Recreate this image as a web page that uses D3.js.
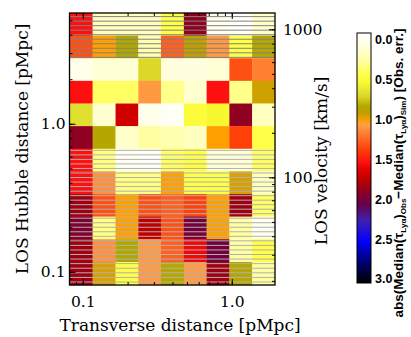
<!DOCTYPE html>
<html>
<head>
<meta charset="utf-8">
<script src="https://cdn.jsdelivr.net/npm/d3@7"></script>
<style>
  html, body { margin: 0; padding: 0; background: #fff; }
  svg { display: block; }
</style>
</head>
<body>
<svg id="chart" width="411" height="337"></svg>
<script>
// ---------------- DATA ----------------
// Shared log-spaced bin edges (pMpc) used for both transverse and LOS-Hubble distance
const binEdges = [0.0815, 0.1165, 0.166, 0.236, 0.335, 0.477, 0.678, 0.964, 1.37, 1.95, 2.77, 3.94, 5.6];
const nCols = 9;   // transverse bins
const nRows = 12;  // LOS bins
// Cell values: abs(Median obs - Median sim) in units of obs. error. Rows listed top (largest LOS) to bottom.
const row00 = [1.55, 0.25, 0.25, 0.25, 0.50, 1.90, 0.10, 0.02, 0.22];
const row01 = [1.35, 1.05, 0.88, 0.30, 1.30, 0.95, 1.12, 0.50, 0.90];
const row02 = [0.12, 0.18, 0.18, 0.75, 0.15, 0.15, 0.18, 1.35, 1.20];
const row03 = [1.55, 0.45, 0.45, 1.12, 0.38, 0.20, 1.55, 0.38, 0.98];
const row04 = [0.72, 0.20, 1.70, 0.12, 0.06, 0.55, 0.60, 1.90, 0.25];
const row05 = [1.90, 0.90, 0.22, 0.33, 0.30, 0.25, 1.05, 1.40, 0.50];
const row06 = [1.55, 0.40, 0.08, 0.05, 0.45, 0.50, 0.18, 0.18, 0.45];
const row07 = [1.55, 1.15, 0.40, 0.40, 1.05, 0.50, 0.50, 1.00, 0.25];
const row08 = [1.85, 1.35, 1.05, 1.35, 1.30, 1.40, 1.05, 1.85, 0.45];
const row09 = [1.95, 0.40, 1.05, 1.75, 1.35, 2.00, 1.05, 0.33, 0.10];
const row10 = [1.85, 1.15, 0.88, 1.12, 1.30, 1.60, 2.00, 0.33, 0.50];
const row11 = [1.85, 1.00, 0.50, 1.12, 0.90, 1.12, 1.85, 0.90, 0.33];
const valueRows = [row00, row01, row02, row03, row04, row05, row06, row07, row08, row09, row10, row11];
// Rows (top-indexed) overlaid with grey hatching lines
const hatchedRows = [0, 1, 6, 7, 8, 9, 10, 11];

const xMajorTicks = [0.1, 1.0];
const xTickLabels = ["0.1", "1.0"];
const yMajorTicks = [0.1, 1.0];
const yTickLabels = ["0.1", "1.0"];
const vMajorTicks = [100, 1000];
const vTickLabels = ["100", "1000"];
const hubbleH = 230; // km/s per pMpc

const cbarTicks = [0, 0.5, 1.0, 1.5, 2.0, 2.5, 3.0];
const cbarTickLabels = ["0.0", "0.5", "1.0", "1.5", "2.0", "2.5", "3.0"];
// colour table stops
const cmapStops  = [0.0, 0.1, 0.2, 0.3, 0.4, 0.5, 0.6, 0.72, 0.78, 0.88, 0.95, 1.0, 1.05, 1.1, 1.2, 1.3, 1.4, 1.55, 1.65, 1.75, 1.85, 1.95, 2.05, 2.25, 2.5, 2.75, 3.0];
const cmapColors = ["#ffffff", "#fffff0", "#ffffd0", "#ffffb0", "#ffff80", "#ffff48", "#f8f830", "#e0e030", "#d8d020", "#b0a800", "#c0a000", "#d8a000", "#ffa000", "#ffa048", "#ff8030", "#ff6020", "#ff4008", "#ff1010", "#e00000", "#c00000", "#a00010", "#800030", "#680048", "#4020b0", "#0000ff", "#000070", "#000000"];

// ---------------- LAYOUT ----------------
const P = { left: 69.5, right: 275, top: 13, bottom: 285 };
const CB = { left: 357, right: 371, top: 33, bottom: 283 };

const svg = d3.select("#chart");
const serif = "'DejaVu Serif', serif";
const sans = "'Liberation Sans', Arial, sans-serif";

const x = d3.scaleLog().domain([binEdges[0], binEdges[nCols]]).range([P.left, P.right]);
const y = d3.scaleLog().domain([binEdges[0], binEdges[nRows]]).range([P.bottom, P.top]);
const yv = d3.scaleLog().domain([binEdges[0] * hubbleH, binEdges[nRows] * hubbleH]).range([P.bottom, P.top]);
const color = d3.scaleLinear().domain(cmapStops).range(cmapColors).clamp(true);

// cells
const cells = [];
valueRows.forEach((row, r) => {
  const lo = binEdges[nRows - 1 - r], hi = binEdges[nRows - r];
  row.forEach((v, c) => cells.push({ r, c, v, x0: binEdges[c], x1: binEdges[c + 1], y0: lo, y1: hi }));
});
svg.append("g").selectAll("rect").data(cells).join("rect")
  .attr("x", d => x(d.x0))
  .attr("y", d => y(d.y1))
  .attr("width", d => x(d.x1) - x(d.x0) + 0.3)
  .attr("height", d => y(d.y0) - y(d.y1) + 0.3)
  .attr("fill", d => color(d.v));

// hatching lines
const hatch = [];
hatchedRows.forEach(r => {
  const lo = binEdges[nRows - 1 - r], hi = binEdges[nRows - r];
  const yt = y(hi), yb = y(lo);
  for (let k = 0; k < 5; k++) hatch.push({ r, yy: yt + (k + (r < 3 ? 0.8 : 0.35)) * (yb - yt) / 5 });
});
svg.append("g").selectAll("line").data(hatch).join("line")
  .attr("x1", P.left).attr("x2", P.right)
  .attr("y1", d => d.yy).attr("y2", d => d.yy)
  .attr("stroke", d => d.r < 3 ? "#808080" : "#b0b0b0")
  .attr("stroke-width", 1);

// minor tick helper
function minorTicks(domain) {
  const out = [];
  for (let e = -2; e <= 4; e++) for (let m = 1; m <= 9; m++) {
    const t = m * Math.pow(10, e);
    if (t >= domain[0] && t <= domain[1]) out.push(t);
  }
  return out;
}
function styleAxis(g) {
  g.select(".domain").remove();
  g.selectAll(".tick line").attr("stroke", "#000").attr("stroke-width", 1);
}
const tickFont = 15.5;
const titleFont = 17;

// x axis bottom
svg.append("g").attr("transform", `translate(0,${P.bottom})`)
  .call(d3.axisBottom(x).tickValues(minorTicks(x.domain())).tickSize(-3).tickFormat(""))
  .call(styleAxis);
svg.append("g").attr("transform", `translate(0,${P.bottom})`)
  .call(d3.axisBottom(x).tickValues(xMajorTicks).tickSize(-6).tickPadding(19).tickFormat((d, i) => xTickLabels[i]))
  .call(styleAxis)
  .call(g => g.selectAll("text").attr("font-family", serif).attr("font-size", tickFont).attr("fill", "#000").attr("dy", "0.2em"));
// x axis top (mirrored)
svg.append("g").attr("transform", `translate(0,${P.top})`)
  .call(d3.axisTop(x).tickValues(minorTicks(x.domain())).tickSize(-3).tickFormat(""))
  .call(styleAxis);
svg.append("g").attr("transform", `translate(0,${P.top})`)
  .call(d3.axisTop(x).tickValues(xMajorTicks).tickSize(-6).tickFormat(""))
  .call(styleAxis);

// y axis left
svg.append("g").attr("transform", `translate(${P.left},0)`)
  .call(d3.axisLeft(y).tickValues(minorTicks(y.domain())).tickSize(-3).tickFormat(""))
  .call(styleAxis);
svg.append("g").attr("transform", `translate(${P.left},0)`)
  .call(d3.axisLeft(y).tickValues(yMajorTicks).tickSize(-6).tickPadding(4).tickFormat((d, i) => yTickLabels[i]))
  .call(styleAxis)
  .call(g => g.selectAll("text").attr("font-family", serif).attr("font-size", tickFont).attr("fill", "#000"));

// y axis right: LOS velocity
svg.append("g").attr("transform", `translate(${P.right},0)`)
  .call(d3.axisRight(yv).tickValues(minorTicks(yv.domain())).tickSize(-3).tickFormat(""))
  .call(styleAxis);
svg.append("g").attr("transform", `translate(${P.right},0)`)
  .call(d3.axisRight(yv).tickValues(vMajorTicks).tickSize(-6).tickPadding(8).tickFormat((d, i) => vTickLabels[i]))
  .call(styleAxis)
  .call(g => g.selectAll("text").attr("font-family", serif).attr("font-size", tickFont).attr("fill", "#000"));

// frame
svg.append("rect").attr("x", P.left).attr("y", P.top)
  .attr("width", P.right - P.left).attr("height", P.bottom - P.top)
  .attr("fill", "none").attr("stroke", "#000").attr("stroke-width", 1.3);

// axis titles
svg.append("text").attr("x", 180).attr("y", 331)
  .attr("text-anchor", "middle").attr("font-family", serif).attr("font-size", titleFont)
  .text("Transverse distance [pMpc]");
svg.append("text").attr("transform", `translate(28,${(P.top + P.bottom) / 2}) rotate(-90)`)
  .attr("text-anchor", "middle").attr("font-family", serif).attr("font-size", titleFont)
  .text("LOS Hubble distance [pMpc]");
svg.append("text").attr("transform", `translate(327,${(P.top + P.bottom) / 2 + 12}) rotate(-90)`)
  .attr("text-anchor", "middle").attr("font-family", serif).attr("font-size", titleFont)
  .text("LOS velocity [km/s]");

// ---------------- COLOUR BAR ----------------
const defs = svg.append("defs");
const grad = defs.append("linearGradient").attr("id", "cbgrad")
  .attr("x1", 0).attr("y1", 0).attr("x2", 0).attr("y2", 1);
grad.selectAll("stop").data(cmapStops).join("stop")
  .attr("offset", d => d / 3)
  .attr("stop-color", (d, i) => cmapColors[i]);
svg.append("rect").attr("x", CB.left).attr("y", CB.top)
  .attr("width", CB.right - CB.left).attr("height", CB.bottom - CB.top)
  .attr("fill", "url(#cbgrad)").attr("stroke", "#000").attr("stroke-width", 1);
const cbLab = d3.scaleLinear().domain([0, 3]).range([40, 279]);
svg.append("g").selectAll("text").data(cbarTicks).join("text")
  .attr("x", CB.right + 4).attr("y", d => cbLab(d)).attr("dy", "0.35em")
  .attr("font-family", sans).attr("font-weight", "bold").attr("font-size", 12.5)
  .text((d, i) => cbarTickLabels[i]);

// colour bar title with subscripts
const cbt = svg.append("text")
  .attr("transform", `translate(403,173) rotate(-90)`)
  .attr("text-anchor", "middle").attr("font-family", sans).attr("font-weight", "bold").attr("font-size", 13.5);
const parts = [
  ["abs(Median(τ", 0], ["Lyα", 1], [")", 0], ["Obs", 1], ["−Median(τ", 0], ["Lyα", 1], [")", 0], ["Sim", 1], [") [Obs. err.]", 0]
];
let sub = false;
parts.forEach(([t, s]) => {
  const ts = cbt.append("tspan").text(t);
  if (s && !sub) { ts.attr("font-size", 8).attr("dy", 3); sub = true; }
  else if (!s && sub) { ts.attr("dy", -3); sub = false; }
  else if (s) ts.attr("font-size", 8);
});
</script>
</body>
</html>
